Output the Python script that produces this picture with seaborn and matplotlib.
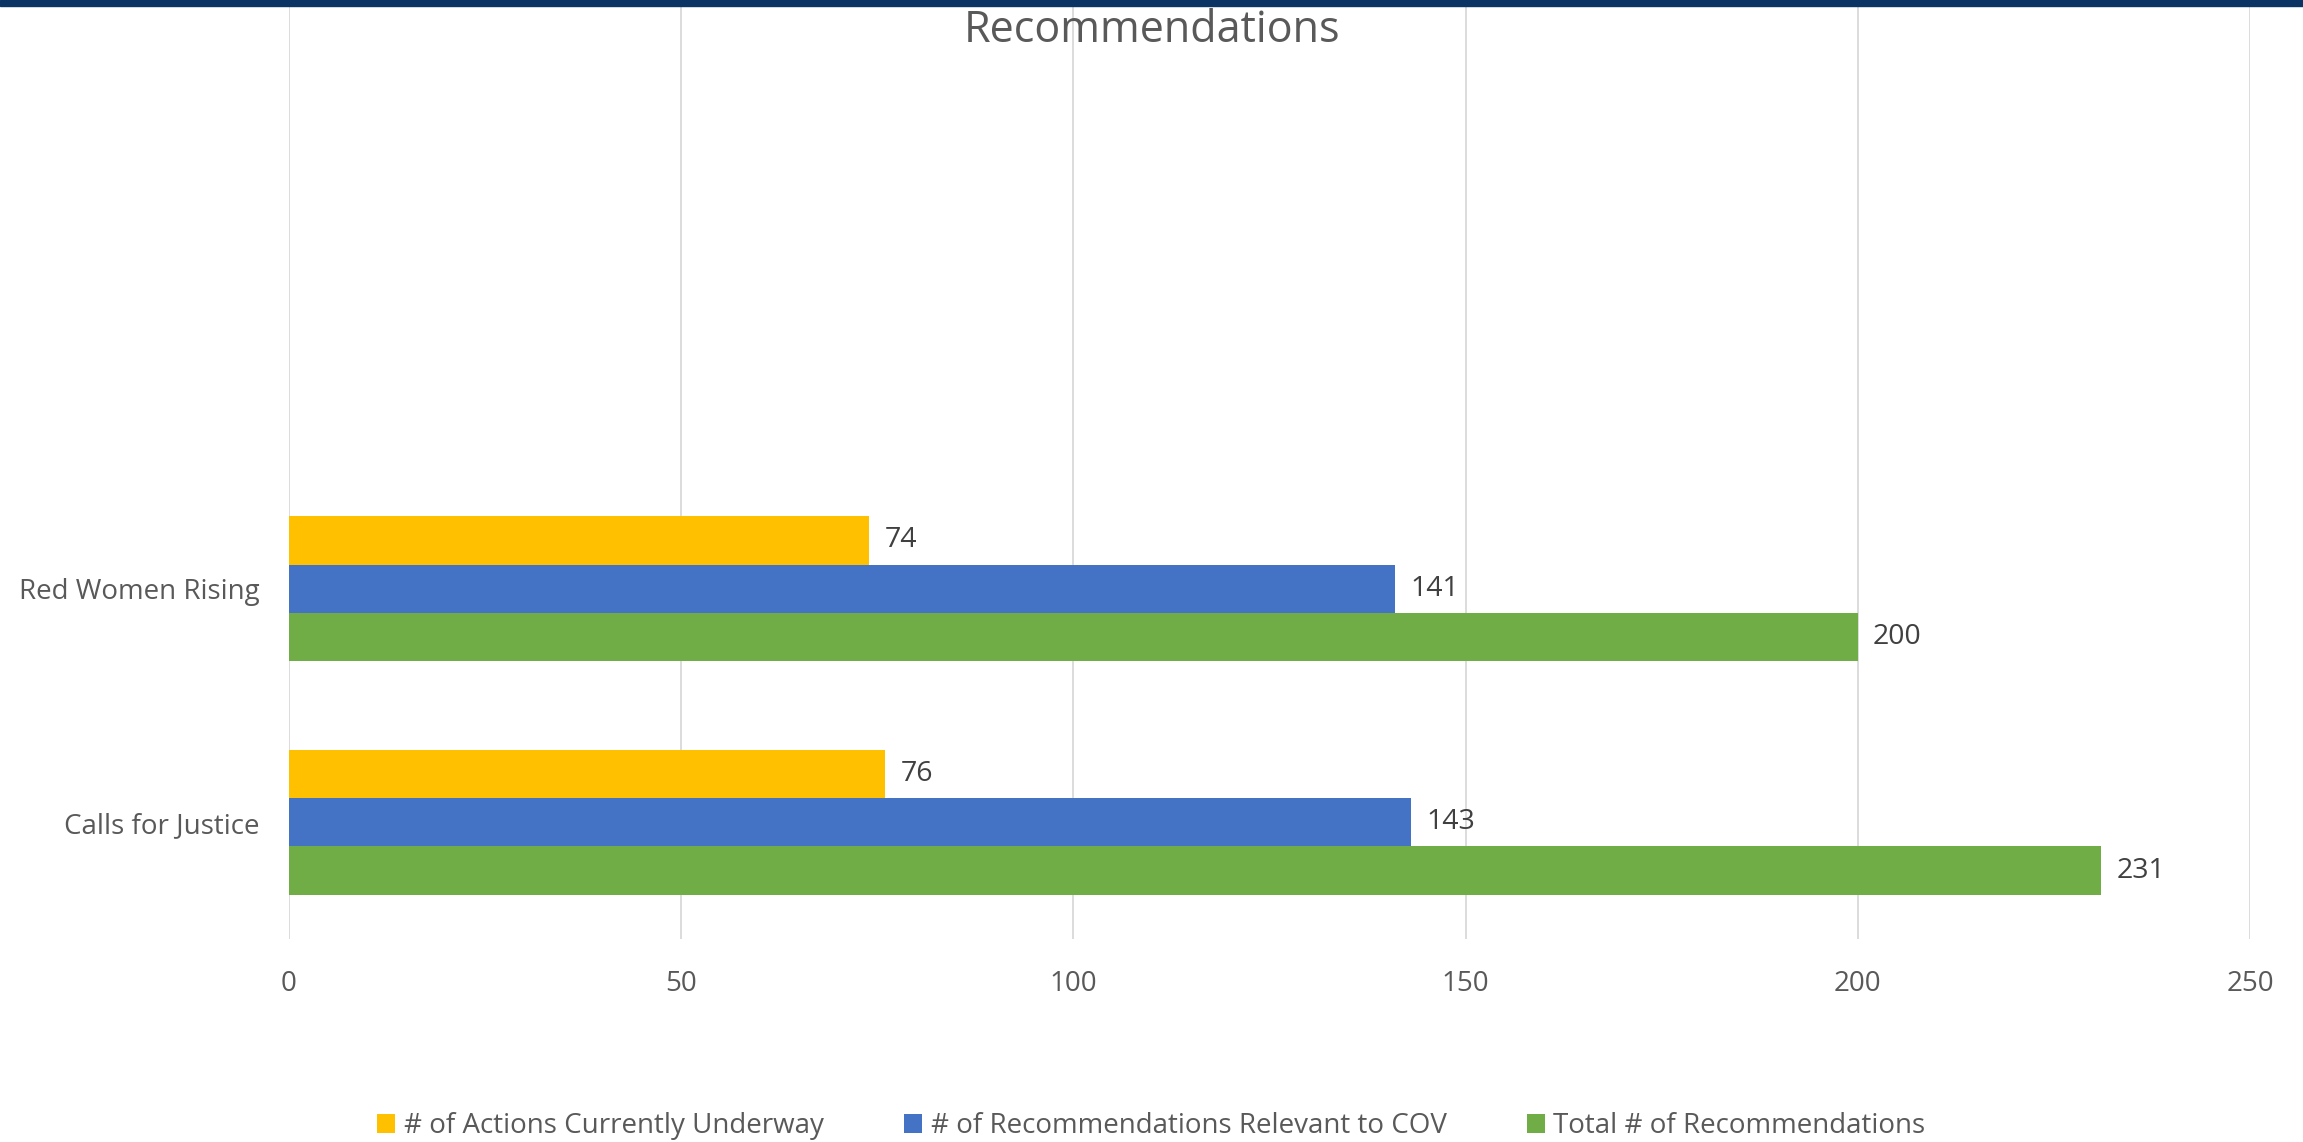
import matplotlib
matplotlib.use("Agg")
import matplotlib.pyplot as plt
from matplotlib.patches import Rectangle
import seaborn as sns
import pandas as pd

# ---- data ----
categories = ["Red Women Rising", "Calls for Justice"]
series_names = ["# of Actions Currently Underway",
                "# of Recommendations Relevant to COV",
                "Total # of Recommendations"]
actions_underway = [74, 76]
relevant_to_cov = [141, 143]
total_recs = [200, 231]
x_ticks = [0, 50, 100, 150, 200, 250]
title_text = "Recommendations"

colors = ["#FFC000", "#4472C4", "#70AD47"]

rows = []
for s, vals in zip(series_names, [actions_underway, relevant_to_cov, total_recs]):
    for c, v in zip(categories, vals):
        rows.append({"category": c, "series": s, "value": v})
df = pd.DataFrame(rows)

sns.set_theme(style="white")
plt.rcParams["font.family"] = ["Open Sans", "DejaVu Sans"]

W, H, DPI = 2303, 1142, 100
fig = plt.figure(figsize=(W / DPI, H / DPI), dpi=DPI)
ax = fig.add_axes([289 / W, 1 - 939 / H, (2250 - 289) / W, (939 - 5) / H])

sns.barplot(data=df, y="category", x="value", hue="series",
            order=categories, hue_order=series_names, palette=colors,
            saturation=1, orient="h", width=0.62, errorbar=None, linewidth=0,
            ax=ax)

# data labels
for cont in ax.containers:
    ax.bar_label(cont, labels=[f"{int(v)}" for v in cont.datavalues],
                 padding=11, fontsize=20.5, color="#404040")

handles, labels = ax.get_legend_handles_labels()
if ax.get_legend() is not None:
    ax.get_legend().remove()

ax.set_xlim(0, 250)
ax.set_ylim(1.5, -2.5)
ax.set_xticks(x_ticks)
ax.set_xticklabels([str(t) for t in x_ticks])
ax.set_xlabel("")
ax.set_ylabel("")
ax.tick_params(axis="both", length=0, labelsize=20, labelcolor="#595959")
ax.tick_params(axis="x", pad=22)
ax.tick_params(axis="y", pad=21)
ax.set_axisbelow(True)
ax.xaxis.grid(True, color="#D9D9D9", linewidth=1.3)
ax.yaxis.grid(False)
for sp in ax.spines.values():
    sp.set_visible(False)

# title
fig.text(0.5, 1 - 42 / H, title_text, ha="center", va="baseline",
         fontsize=31, color="#595959")

# legend
fig.legend(handles, labels, loc="center", bbox_to_anchor=(0.5, 1 - 1126 / H),
           ncol=3, frameon=False, fontsize=20, labelcolor="#595959",
           handlelength=0.65, handleheight=0.65, handletextpad=0.3,
           columnspacing=2.9, borderpad=0, borderaxespad=0)

# top navy band
fig.add_artist(Rectangle((0, 1 - 6 / H), 1, 6 / H, transform=fig.transFigure,
                         color="#0B3363", zorder=10))

fig.savefig("out.png", dpi=DPI)
